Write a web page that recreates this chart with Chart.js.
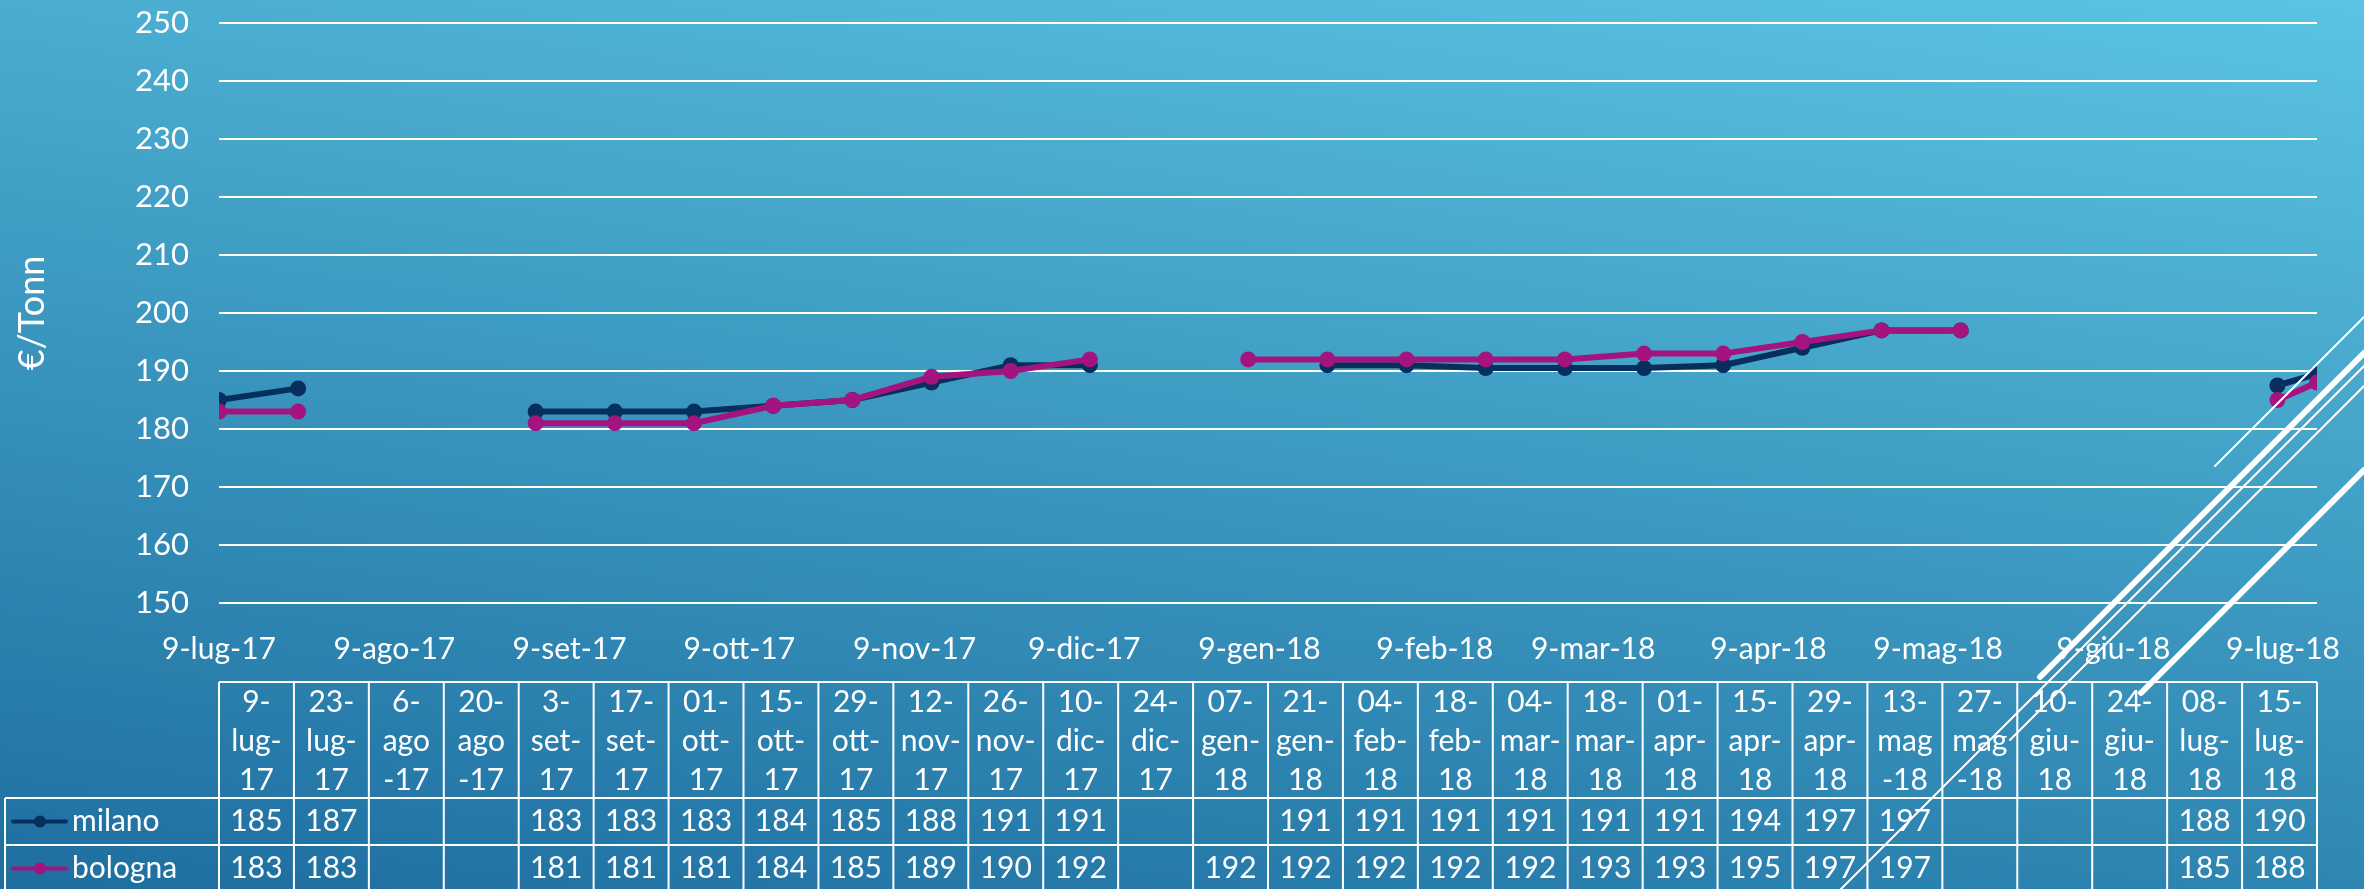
<!DOCTYPE html>
<html>
<head>
<meta charset="utf-8">
<script src="https://cdn.jsdelivr.net/npm/chart.js@4.4.1/dist/chart.umd.min.js"></script>
<style>
html, body { margin: 0; padding: 0; overflow: hidden; }
body { background: linear-gradient(8deg, #1E6EA0 0%, #5BC4E2 100%); }
#wrap { position: relative; width: 2364px; height: 889px; }
</style>
</head>
<body>
<div id="wrap"><canvas id="myChart"></canvas></div>
<script>
const categories = ['9-lug-17', '23-lug-17', '6-ago-17', '20-ago-17', '3-set-17', '17-set-17', '01-ott-17',
    '15-ott-17', '29-ott-17', '12-nov-17', '26-nov-17', '10-dic-17', '24-dic-17', '07-gen-18', '21-gen-18',
    '04-feb-18', '18-feb-18', '04-mar-18', '18-mar-18', '01-apr-18', '15-apr-18', '29-apr-18', '13-mag-18',
    '27-mag-18', '10-giu-18', '24-giu-18', '08-lug-18', '15-lug-18']

const milano = [185, 187, null, null, 183, 183, 183, 184, 185, 188, 191, 191, null, null,
    191, 191, 190.5, 190.5, 190.5, 191, 194, 197, 197, null, null, null, 187.5, 189.5]
const bologna = [183, 183, null, null, 181, 181, 181, 184, 185, 189, 190, 192, null, 192,
    192, 192, 192, 192, 193, 193, 195, 197, 197, null, null, null, 185, 188]

const tickLabels = ['9-lug-17', '9-ago-17', '9-set-17', '9-ott-17', '9-nov-17', '9-dic-17', '9-gen-18',
    '9-feb-18', '9-mar-18', '9-apr-18', '9-mag-18', '9-giu-18', '9-lug-18']

// months that Excel wraps as "mag" / "-18" instead of "mag-" / "18"
const wrapWhole = ['ago', 'mag']

const mesi = ['gen', 'feb', 'mar', 'apr', 'mag', 'giu', 'lug', 'ago', 'set', 'ott', 'nov', 'dic']
function toDay(label) {
    let [d, m, y] = label.split('-')
    return Date.UTC(2000 + Number(y), mesi.indexOf(m), Number(d)) / 86400000
}
let day0 = toDay(categories[0])
let xs = categories.map(c => toDay(c) - day0)
let tickDays = tickLabels.map(t => toDay(t) - day0)

const navy = '#062F5E'
const magenta = '#A3147F'
const fontFam = 'Lato, "Open Sans", sans-serif'

const tablePlugin = {
    id: 'dataTable',
    afterDraw(chart) {
        let ctx = chart.ctx
        let {left, right, bottom} = chart.chartArea
        let n = categories.length
        let colW = (right - left) / n
        let top = bottom + 79, headH = 116, rowH = 47
        let H = chart.height + 10
        ctx.save()
        ctx.strokeStyle = '#fff'
        ctx.lineWidth = 2
        ctx.beginPath()
        ctx.moveTo(left, top); ctx.lineTo(right, top)
        for (let r = 0; r < 3; r++) {
            ctx.moveTo(5, top + headH + r * rowH); ctx.lineTo(right, top + headH + r * rowH)
        }
        for (let i = 0; i <= n; i++) {
            ctx.moveTo(left + i * colW, top); ctx.lineTo(left + i * colW, H)
        }
        ctx.moveTo(5, top + headH); ctx.lineTo(5, H)
        ctx.stroke()

        ctx.fillStyle = '#fff'
        ctx.font = '30px ' + fontFam
        ctx.textAlign = 'center'
        ctx.textBaseline = 'middle'
        categories.forEach((c, i) => {
            let [d, m, y] = c.split('-')
            let lines = wrapWhole.includes(m) ? [d + '-', m, '-' + y] : [d + '-', m + '-', y]
            let cx = left + (i + 0.5) * colW
            lines.forEach((t, k) => ctx.fillText(t, cx, top + 20 + k * 39))
        })

        let rows = [['milano', milano, navy], ['bologna', bologna, magenta]]
        rows.forEach(([name, vals, col], r) => {
            let cy = top + headH + r * rowH + rowH / 2
            ctx.strokeStyle = col
            ctx.lineWidth = 4
            ctx.lineCap = 'round'
            ctx.beginPath(); ctx.moveTo(13, cy); ctx.lineTo(66, cy); ctx.stroke()
            ctx.fillStyle = col
            ctx.beginPath(); ctx.arc(40, cy, 6, 0, Math.PI * 2); ctx.fill()
            ctx.fillStyle = '#fff'
            ctx.textAlign = 'left'
            ctx.fillText(name, 72, cy)
            ctx.textAlign = 'center'
            vals.forEach((v, i) => {
                if (v !== null) ctx.fillText(String(Math.round(v)), left + (i + 0.5) * colW, cy)
            })
        })
        ctx.restore()
    }
}

// slide theme decoration, bottom right
const decoPlugin = {
    id: 'deco',
    afterDraw(chart) {
        let ctx = chart.ctx
        ctx.save()
        ctx.strokeStyle = '#fff'
        ctx.lineCap = 'round'
        let segs = [
            [2215, 466, 2364, 317, 2],
            [2040, 677, 2364, 353, 6],
            [1841, 889, 2364, 366, 2],
            [2010, 740, 2364, 386, 2],
            [2141, 693, 2364, 470, 6]
        ]
        segs.forEach(([x1, y1, x2, y2, w]) => {
            ctx.lineWidth = w
            ctx.beginPath(); ctx.moveTo(x1, y1); ctx.lineTo(x2, y2); ctx.stroke()
        })
        ctx.restore()
    }
}

new Chart('myChart', {
    type: 'line',
    data: {
        datasets: [{
            label: 'milano',
            data: xs.map((x, i) => ({x: x, y: milano[i]})),
            borderColor: navy,
            backgroundColor: navy,
            borderWidth: 6,
            pointRadius: 8,
            pointHoverRadius: 8,
            pointBorderWidth: 0,
            tension: 0,
            order: 1
        }, {
            label: 'bologna',
            data: xs.map((x, i) => ({x: x, y: bologna[i]})),
            borderColor: magenta,
            backgroundColor: magenta,
            borderWidth: 6,
            pointRadius: 8,
            pointHoverRadius: 8,
            pointBorderWidth: 0,
            tension: 0,
            order: 0
        }]
    },
    options: {
        responsive: true,
        maintainAspectRatio: false,
        animation: false,
        layout: {padding: {top: 0, right: 47, bottom: 0, left: 0}},
        plugins: {legend: {display: false}, tooltip: {enabled: false}},
        scales: {
            x: {
                type: 'linear',
                min: 0,
                max: xs[xs.length - 1],
                afterFit(s) { s.height = 286 },
                afterBuildTicks(s) { s.ticks = tickDays.map(v => ({value: v})) },
                ticks: {
                    callback: (v, i) => tickLabels[i],
                    color: '#fff',
                    font: {family: fontFam, size: 30},
                    padding: 20,
                    maxRotation: 0,
                    autoSkip: false
                },
                grid: {display: false},
                border: {display: false}
            },
            y: {
                min: 150,
                max: 250,
                afterFit(s) {
                    s.width = 219
                    s.paddingTop = 23
                    s.paddingBottom = 0
                },
                ticks: {stepSize: 10, color: '#fff', font: {family: fontFam, size: 31}, padding: 30},
                grid: {color: '#fff', lineWidth: 2, drawTicks: false},
                border: {display: false},
                title: {
                    display: true,
                    text: '€/Tonn',
                    color: '#fff',
                    font: {family: fontFam, size: 36},
                    padding: {top: 11, bottom: 0}
                }
            }
        }
    },
    plugins: [tablePlugin, decoPlugin]
})
</script>
</body>
</html>
